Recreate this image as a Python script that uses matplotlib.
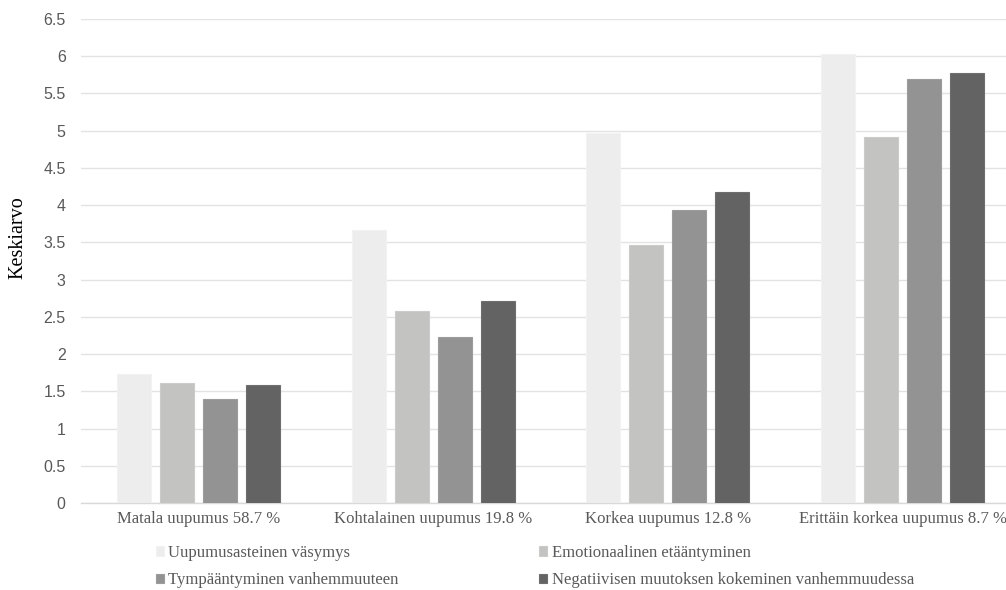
import matplotlib
matplotlib.use("Agg")
import matplotlib.pyplot as plt
import numpy as np

categories = ["Matala uupumus 58.7 %", "Kohtalainen uupumus 19.8 %",
              "Korkea uupumus 12.8 %", "Erittäin korkea uupumus 8.7 %"]
series_names = ["Uupumusasteinen väsymys", "Emotionaalinen etääntyminen",
                "Tympääntyminen vanhemmuuteen",
                "Negatiivisen muutoksen kokeminen vanhemmuudessa"]
uupumusasteinen = [1.73, 3.66, 4.97, 6.03]
emotionaalinen = [1.61, 2.58, 3.47, 4.91]
tympaantyminen = [1.40, 2.23, 3.94, 5.70]
negatiivisen = [1.58, 2.71, 4.18, 5.77]
yticks = [0, 0.5, 1, 1.5, 2, 2.5, 3, 3.5, 4, 4.5, 5, 5.5, 6, 6.5]
ytick_labels = ["0", "0.5", "1", "1.5", "2", "2.5", "3", "3.5", "4", "4.5", "5", "5.5", "6", "6.5"]

series = [uupumusasteinen, emotionaalinen, tympaantyminen, negatiivisen]
colors = ["#EDEDED", "#C3C3C1", "#939393", "#636363"]
edges = ["#F2F2F2", "#CBCBC9", "#9C9C9C", "#6E6E6E"]

W, H = 1006, 590
fig = plt.figure(figsize=(W / 100, H / 100), dpi=100)
ax = fig.add_axes([81 / W, 1 - 503 / H, 939 / W, (503 - 19) / H])

x = np.arange(len(categories))
bw = 0.145
step = 0.183
handles = []
for i, (vals, c, e) in enumerate(zip(series, colors, edges)):
    h = ax.bar(x + (i - 1.5) * step, vals, width=bw, color=c, edgecolor=e,
               linewidth=0.8, label=series_names[i], zorder=3)
    handles.append(h)

ax.set_xlim(-0.5, len(categories) - 0.5)
ax.set_ylim(0, 6.5)
ax.set_yticks(yticks)
ax.set_yticklabels(ytick_labels, fontfamily="Liberation Sans", fontsize=11.5, color="#595959")
ax.set_xticks(x)
ax.set_xticklabels(categories, fontfamily="Liberation Serif", fontsize=12, color="#595959")
ax.tick_params(axis="both", length=0)
ax.tick_params(axis="y", pad=11)
ax.tick_params(axis="x", pad=6)
ax.grid(axis="y", color="#E3E3E3", linewidth=1, zorder=0)
for s in ["top", "right", "left"]:
    ax.spines[s].set_visible(False)
ax.spines["bottom"].set_color("#D9D9D9")
ax.spines["bottom"].set_linewidth(1)

fig.text(18 / W, 1 - 238 / H, "Keskiarvo", rotation=90, ha="center", va="center",
         fontfamily="Liberation Serif", fontsize=14.5, color="#000000")

legend_kw = dict(loc="upper left", frameon=False,
                 prop={"family": "Liberation Serif", "size": 12},
                 handlelength=0.5, handleheight=0.5, handletextpad=0.25,
                 labelspacing=0.68, borderaxespad=0, borderpad=0)
leg1 = fig.legend([handles[0], handles[2]], [series_names[0], series_names[2]],
                  bbox_to_anchor=(156 / W, 1 - 545 / H), **legend_kw)
leg2 = fig.legend([handles[1], handles[3]], [series_names[1], series_names[3]],
                  bbox_to_anchor=(539 / W, 1 - 545 / H), **legend_kw)
for leg in (leg1, leg2):
    for t in leg.get_texts():
        t.set_color("#595959")

fig.savefig("out.png", dpi=100)
